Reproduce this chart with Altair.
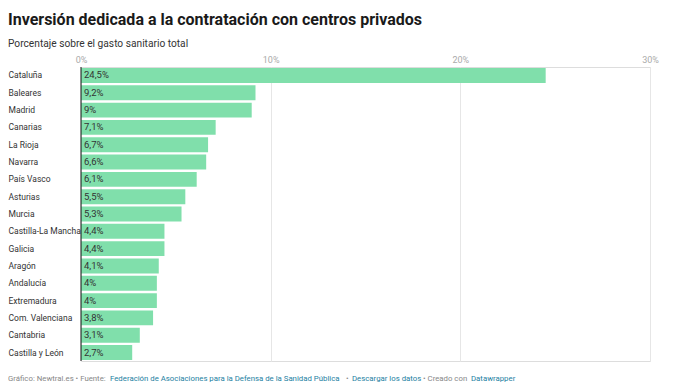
import altair as alt
import pandas as pd

regiones = ["Cataluña", "Baleares", "Madrid", "Canarias", "La Rioja", "Navarra", "País Vasco",
            "Asturias", "Murcia", "Castilla-La Mancha", "Galicia", "Aragón", "Andalucía",
            "Extremadura", "Com. Valenciana", "Cantabria", "Castilla y León"]
valores = [24.5, 9.2, 9.0, 7.1, 6.7, 6.6, 6.1, 5.5, 5.3, 4.4, 4.4, 4.1, 4.0, 4.0, 3.8, 3.1, 2.7]
etiquetas = [f"{v:g}".replace(".", ",") + "%" for v in valores]

titulo = "Inversión dedicada a la contratación con centros privados"
subtitulo = "Porcentaje sobre el gasto sanitario total"
# (text, colour, left position in page pixels)
footer_parts = [
    ("Gráfico: Newtral.es • Fuente:", "#888888", 1),
    ("Federación de Asociaciones para la Defensa de la Sanidad Pública", "#1d81a2", 103),
    ("•", "#888888", 339),
    ("Descargar los datos", "#1d81a2", 345),
    ("• Creado con", "#888888", 416),
    ("Datawrapper", "#1d81a2", 464),
]

df = pd.DataFrame({"region": regiones, "valor": valores, "label": etiquetas})

W, H = 569, 294
LEFT = 73
TOP = 59
FONT = "Roboto"
SHIFT = 7  # page margin offset vs reference

y_enc = alt.Y("region:N", sort=regiones, axis=alt.Axis(labels=True, title=None, ticks=False, domain=False,
              labelAlign="left", labelPadding=LEFT, labelFont=FONT, labelFontSize=8.5,
              labelColor="#333333"),
              scale=alt.Scale(paddingInner=0.14, paddingOuter=0.06))
x_scale = alt.Scale(domain=[0, 30], nice=False)

bars = alt.Chart(df).mark_bar(color="#80dfab").encode(
    x=alt.X("valor:Q", scale=x_scale,
            axis=alt.Axis(orient="top", title=None, values=[0, 10, 20, 30], labelExpr="datum.value + '%'",
                          ticks=False, domain=False, grid=True, gridColor="#e6e6e6",
                          labelColor="#aaaaaa", labelFont=FONT, labelFontSize=9, labelPadding=3,
                          labelFlush=False)),
    y=y_enc,
)

texts = alt.Chart(df).mark_text(align="left", baseline="middle", dx=3, font=FONT, fontSize=9.5,
                                color="#333333").encode(
    x=alt.value(0),
    y=alt.Y("region:N", sort=regiones),
    text="label:N",
)

zero = alt.Chart(pd.DataFrame({"z": [0]})).mark_rule(color="#111111", strokeWidth=1).encode(
    x=alt.X("z:Q", scale=x_scale), y=alt.value(0), y2=alt.value(H))

def txt(t, x, y, size, color, weight="normal"):
    return alt.Chart(pd.DataFrame({"t": [t]})).mark_text(
        align="left", baseline="alphabetic", font=FONT, fontSize=size, color=color, fontWeight=weight
    ).encode(text="t:N", x=alt.value(x), y=alt.value(y))

layers = [bars, zero, texts,
          txt(titulo, -LEFT, -42, 16, "#1a1a1a", "bold"),
          txt(subtitulo, -LEFT, -20, 10.2, "#333333")]
for t, c, px in footer_parts:
    layers.append(txt(t, px + SHIFT - 8 - LEFT, H + 20, 7.8, c))

chart = alt.layer(*layers).properties(
    width=W, height=H,
    autosize=alt.AutoSizeParams(type="none"),
    padding={"left": LEFT, "top": TOP, "right": 20, "bottom": 30},
).configure_view(stroke=None).configure(background="white")

chart.save("out.html", embed_options={"renderer": "svg", "actions": False})
